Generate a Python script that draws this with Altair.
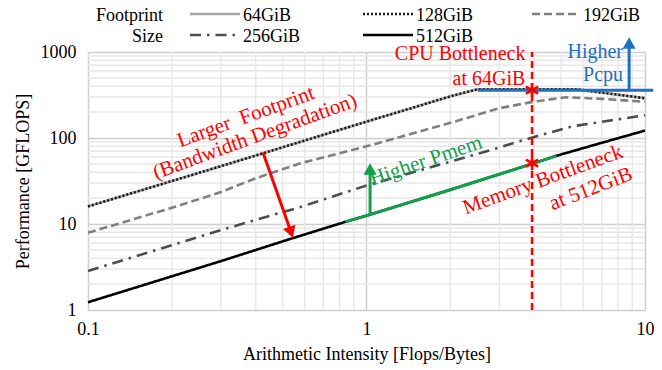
import altair as alt
import pandas as pd

FONT = "Liberation Serif"

# ---- data ----
series = ["64GiB", "128GiB", "192GiB", "256GiB", "512GiB"]

ai_64 = [0.1, 0.3, 0.5, 1, 1.5, 2, 2.5, 4, 5.7, 10]
perf_64 = [16, 47, 78, 155, 230, 305, 368, 368, 368, 290]

ai_128 = [0.1, 0.3, 0.5, 1, 1.5, 2, 2.5, 4, 5.7, 10]
perf_128 = [16, 47, 78, 155, 230, 305, 368, 368, 368, 290]

ai_192 = [0.1, 0.21, 0.3, 0.4, 0.58, 1, 2, 3, 4, 5.2, 7, 10]
perf_192 = [7.9, 16.2, 23.5, 34, 51, 80, 150, 222, 265, 298, 285, 264]

ai_256 = [0.1, 0.3, 0.58, 1, 2, 2.77, 4, 5.5, 10]
perf_256 = [2.85, 8.5, 15.8, 28, 53, 72, 103, 137, 184]

ai_512 = [0.1, 0.3, 0.54, 0.84, 1, 2, 4, 4.8, 7, 10]
perf_512 = [1.23, 3.7, 6.8, 10.6, 12.5, 25, 51, 62, 88, 122]

green_ai = [0.84, 1, 2, 4, 4.8]
green_perf = [10.6, 12.5, 25, 51, 62]

x_major = [0.1, 1, 10]
y_major = [1, 10, 100, 1000]
x_minor = [0.2, 0.3, 0.4, 0.5, 0.6, 0.7, 0.8, 0.9, 2, 3, 4, 5, 6, 7, 8, 9]
y_minor = [2, 3, 4, 5, 6, 7, 8, 9, 20, 30, 40, 50, 60, 70, 80, 90,
           200, 300, 400, 500, 600, 700, 800, 900]

legend_title = ["Footprint", "Size"]

colors = ["#a6a6a6", "#1a1a1a", "#808080", "#4d4d4d", "#000000"]
dashes = [[1, 0], [2, 2], [8, 4], [11, 6, 2.5, 6], [1, 0]]

cpu_x = 3.93
cpu_peak = 360
mem_peak = 51

# legend layout (in data units of the two log axes; drawn above the plot)
leg_x1 = [0.2324, 0.9714, 3.930, 0.2324, 0.9714]
leg_x2 = [0.3513, 1.469, 5.843, 0.3513, 1.469]
leg_y = [2768, 2768, 2768, 1577, 1577]
leg_lx = [0.3602, 1.506, 5.990, 0.3602, 1.506]
leg_ly = [2622, 2622, 2622, 1494, 1494]
title_x = [0.186, 0.186]
title_y = [2622, 1494]

# ---- scales / axes ----
xs = alt.Scale(type="log", domain=[0.1, 10], nice=False)
ys = alt.Scale(type="log", domain=[1, 1000], nice=False)
xaxis = alt.Axis(values=x_major, format="~g", grid=True, gridColor="#cfcfcf",
                 gridWidth=1.5, domain=False, ticks=False, labelFont=FONT,
                 labelFontSize=18, labelColor="black", labelPadding=10,
                 labelFlush=False,
                 title="Arithmetic Intensity [Flops/Bytes]", titleFont=FONT,
                 titleFontSize=18, titleFontWeight="normal", titleColor="black",
                 titlePadding=7)
yaxis = alt.Axis(values=y_major, format="~g", grid=True, gridColor="#cfcfcf",
                 gridWidth=1.5, domain=False, ticks=False, labelFont=FONT,
                 labelFontSize=18, labelColor="black", labelPadding=12,
                 labelFlush=False,
                 title="Performance [GFLOPS]", titleFont=FONT,
                 titleFontSize=18, titleFontWeight="normal", titleColor="black",
                 titlePadding=8)

cscale = alt.Scale(domain=series, range=colors)
dscale = alt.Scale(domain=series, range=dashes)

# ---- tables ----
rows = []
for name, xa, ya in [("64GiB", ai_64, perf_64), ("128GiB", ai_128, perf_128),
                     ("192GiB", ai_192, perf_192), ("256GiB", ai_256, perf_256),
                     ("512GiB", ai_512, perf_512)]:
    for a, p in zip(xa, ya):
        rows.append({"series": name, "ai": a, "perf": p})
lines_df = pd.DataFrame(rows)

gx_minor = alt.Chart(pd.DataFrame({"v": x_minor})).mark_rule(
    color="#e8e8e8", strokeWidth=1.5).encode(x=alt.X("v:Q", scale=xs, axis=xaxis))
gy_minor = alt.Chart(pd.DataFrame({"v": y_minor})).mark_rule(
    color="#e8e8e8", strokeWidth=1.5).encode(y=alt.Y("v:Q", scale=ys, axis=yaxis))

lines = alt.Chart(lines_df).mark_line(strokeWidth=2.6).encode(
    x=alt.X("ai:Q", scale=xs, axis=xaxis),
    y=alt.Y("perf:Q", scale=ys, axis=yaxis),
    color=alt.Color("series:N", scale=cscale, sort=series, legend=None),
    strokeDash=alt.StrokeDash("series:N", scale=dscale, sort=series, legend=None),
    detail="series:N",
)

# legend drawn as marks
leg_df = pd.DataFrame({"series": series, "x1": leg_x1, "x2": leg_x2, "y": leg_y,
                       "lx": leg_lx, "ly": leg_ly})
leg_lines = alt.Chart(leg_df).mark_rule(strokeWidth=2.6, clip=False).encode(
    x=alt.X("x1:Q", scale=xs, axis=xaxis), x2="x2:Q",
    y=alt.Y("y:Q", scale=ys, axis=yaxis),
    color=alt.Color("series:N", scale=cscale, sort=series, legend=None),
    strokeDash=alt.StrokeDash("series:N", scale=dscale, sort=series, legend=None),
)
leg_labels = alt.Chart(leg_df).mark_text(font=FONT, fontSize=18, align="left",
                                         baseline="middle", color="black",
                                         clip=False).encode(
    x=alt.X("lx:Q", scale=xs, axis=xaxis), y=alt.Y("ly:Q", scale=ys, axis=yaxis),
    text="series:N")
title_df = pd.DataFrame({"x": title_x, "y": title_y, "t": legend_title})
leg_title = alt.Chart(title_df).mark_text(font=FONT, fontSize=18, align="right",
                                          baseline="middle", color="black",
                                          clip=False).encode(
    x=alt.X("x:Q", scale=xs, axis=xaxis), y=alt.Y("y:Q", scale=ys, axis=yaxis), text="t:N")

green = alt.Chart(pd.DataFrame({"ai": green_ai, "perf": green_perf})).mark_line(
    color="#12a04b", strokeWidth=3).encode(
    x=alt.X("ai:Q", scale=xs, axis=xaxis), y=alt.Y("perf:Q", scale=ys, axis=yaxis))

blue_h = alt.Chart(pd.DataFrame({"ai": [2.51, 10.7], "perf": [cpu_peak, cpu_peak]})).mark_line(
    color="#1f6fbf", strokeWidth=3, clip=False).encode(
    x=alt.X("ai:Q", scale=xs, axis=xaxis), y=alt.Y("perf:Q", scale=ys, axis=yaxis))

arrows_df = pd.DataFrame({
    "x1": [8.77, 1.03, 0.425], "y1": [cpu_peak, 13.0, 68],
    "x2": [8.77, 1.03, 0.536], "y2": [1273, 43.6, 8.0],
    "col": ["#1f6fbf", "#12a04b", "#ff0000"],
})
shafts = alt.Chart(arrows_df).mark_rule(strokeWidth=3, clip=False).encode(
    x=alt.X("x1:Q", scale=xs, axis=xaxis), y=alt.Y("y1:Q", scale=ys, axis=yaxis),
    x2="x2:Q", y2="y2:Q", color=alt.Color("col:N", scale=None))

heads_df = pd.DataFrame({
    "x": [8.77, 1.03, 0.536], "y": [1273, 43.6, 8.0],
    "col": ["#1f6fbf", "#12a04b", "#ff0000"],
    "shape": ["triangle-up", "triangle-up", "triangle-down"],
    "ang": [0, 0, 341],
})
heads = alt.Chart(heads_df).mark_point(filled=True, size=170, opacity=1, clip=False).encode(
    x=alt.X("x:Q", scale=xs, axis=xaxis), y=alt.Y("y:Q", scale=ys, axis=yaxis),
    color=alt.Color("col:N", scale=None), shape=alt.Shape("shape:N", scale=None),
    angle=alt.Angle("ang:Q", scale=None))

vline = alt.Chart(pd.DataFrame({"x": [cpu_x], "y1": [1], "y2": [1000]})).mark_rule(
    color="#ff0000", strokeWidth=2.5, strokeDash=[7, 4]).encode(
    x=alt.X("x:Q", scale=xs, axis=xaxis), y=alt.Y("y1:Q", scale=ys, axis=yaxis), y2="y2:Q")

stars = alt.Chart(pd.DataFrame({"x": [cpu_x, cpu_x], "y": [cpu_peak, mem_peak]})).mark_point(
    shape="M0,-1L0,1M-0.866,-0.5L0.866,0.5M-0.866,0.5L0.866,-0.5",
    color="#ff0000", strokeWidth=2.5, size=200, opacity=1, filled=False).encode(
    x=alt.X("x:Q", scale=xs, axis=xaxis), y=alt.Y("y:Q", scale=ys, axis=yaxis))

rot_df = pd.DataFrame({
    "x": [0.369, 0.398, 1.635, 4.3, 6.4],
    "y": [175, 103, 54, 32.5, 25.5],
    "t": ["Larger\u00a0 Footprint", "(Bandwidth Degradation)", "Higher Pmem",
          "Memory Bottleneck", "at 512GiB"],
    "col": ["#ff0000", "#ff0000", "#12a04b", "#ff0000", "#ff0000"],
    "ang": [340, 340, 341, 340, 339],
})
rot_text = alt.Chart(rot_df).mark_text(font=FONT, fontSize=21, align="center",
                                       baseline="middle", clip=False).encode(
    x=alt.X("x:Q", scale=xs, axis=xaxis), y=alt.Y("y:Q", scale=ys, axis=yaxis),
    text="t:N", color=alt.Color("col:N", scale=None), angle=alt.Angle("ang:Q", scale=None))

right_df = pd.DataFrame({
    "x": [3.72, 3.72, 8.34, 8.34],
    "y": [947, 485, 1000, 540],
    "t": ["CPU Bottleneck", "at 64GiB", "Higher", "Pcpu"],
    "col": ["#ff0000", "#ff0000", "#1f6fbf", "#1f6fbf"],
})
right_text = alt.Chart(right_df).mark_text(font=FONT, fontSize=20, align="right",
                                           baseline="middle", clip=False).encode(
    x=alt.X("x:Q", scale=xs, axis=xaxis), y=alt.Y("y:Q", scale=ys, axis=yaxis),
    text="t:N", color=alt.Color("col:N", scale=None))

chart = alt.layer(gx_minor, gy_minor, lines, green, blue_h, vline, shafts, heads,
                  stars, rot_text, right_text, leg_lines, leg_labels, leg_title).properties(
    width=557, height=258,
    autosize=alt.AutoSizeParams(type="none"),
    padding={"left": 80, "top": 44, "right": 9, "bottom": 70},
).configure_view(stroke="#c8c8c8", strokeWidth=1.5).configure(background="white")

chart.save("out.html", embed_options={"renderer": "svg", "actions": False})
